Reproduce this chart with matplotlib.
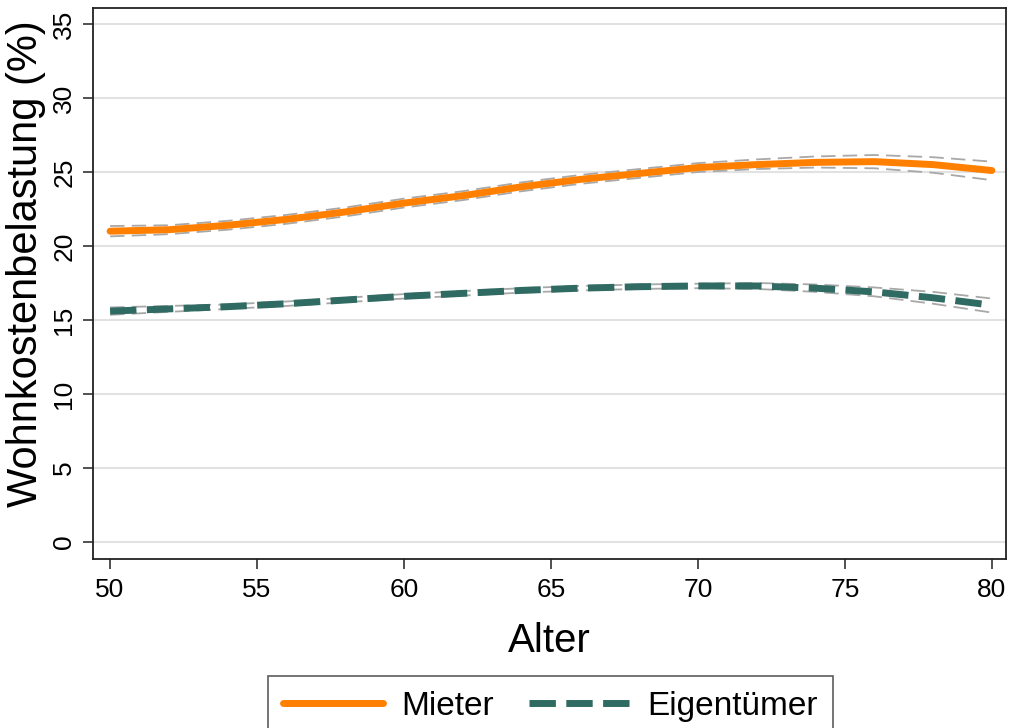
import numpy as np
import matplotlib.pyplot as plt

plt.rcParams['font.family'] = ['Liberation Sans', 'DejaVu Sans']

# --- Data ---
alter = [50, 52, 54, 56, 58, 60, 62, 64, 66, 68, 70, 72, 74, 76, 78, 80]

mieter = [21.0, 21.1, 21.4, 21.8, 22.3, 22.9, 23.4, 24.0, 24.5, 24.9, 25.3, 25.5, 25.65, 25.7, 25.5, 25.1]
mieter_lo = [20.65, 20.8, 21.1, 21.5, 22.0, 22.6, 23.1, 23.7, 24.2, 24.6, 25.0, 25.2, 25.3, 25.25, 24.95, 24.45]
mieter_hi = [21.35, 21.4, 21.7, 22.1, 22.6, 23.2, 23.7, 24.3, 24.8, 25.2, 25.6, 25.85, 26.05, 26.15, 26.0, 25.7]

eigen = [15.6, 15.75, 15.9, 16.1, 16.35, 16.6, 16.8, 17.0, 17.15, 17.25, 17.3, 17.3, 17.15, 16.9, 16.5, 16.0]
eigen_lo = [15.35, 15.55, 15.75, 15.95, 16.2, 16.45, 16.65, 16.85, 17.0, 17.1, 17.15, 17.1, 16.9, 16.6, 16.1, 15.5]
eigen_hi = [15.85, 15.95, 16.05, 16.25, 16.5, 16.75, 16.95, 17.15, 17.3, 17.4, 17.45, 17.5, 17.4, 17.2, 16.9, 16.45]

xticks = [50, 55, 60, 65, 70, 75, 80]
yticks = [0, 5, 10, 15, 20, 25, 30, 35]

orange = '#ff7f00'
teal = '#2f6b62'
ci_grey = '#a8a8a8'

# --- Plotting ---
fig = plt.figure(figsize=(10.1, 7.28), dpi=100)
ax = fig.add_axes([0.0921, 0.2321, 0.9039, 0.7569])

for y in yticks:
    ax.axhline(y, color='#e2e2e2', linewidth=1.5, zorder=0)

# confidence bands
for band in (mieter_lo, mieter_hi, eigen_lo, eigen_hi):
    ax.plot(alter, band, color=ci_grey, linewidth=1.3, dashes=(8, 4), zorder=2)

ax.plot(alter, mieter, color=orange, linewidth=5.0, solid_capstyle='round',
        label='Mieter', zorder=3)
ax.plot(alter, eigen, color=teal, linewidth=5.0, dashes=(3.8, 1.5),
        label='Eigentümer', zorder=3)

ax.set_xlim(49.42, 80.48)
ax.set_ylim(-1.15, 36.08)
ax.set_xticks(xticks)
ax.set_yticks(yticks)
ax.tick_params(axis='both', labelsize=19, length=7, width=1.2, color='#333333')
ax.tick_params(axis='x', pad=7)
ax.tick_params(axis='y', pad=5)
for lab in ax.get_yticklabels():
    lab.set_rotation(90)
    lab.set_va('center')

for sp in ax.spines.values():
    sp.set_color('#222222')
    sp.set_linewidth(1.3)

ax.set_xlabel('Alter', fontsize=29, labelpad=14)
ax.set_ylabel('Wohnkostenbelastung (%)', fontsize=30)
ax.yaxis.set_label_coords(-0.052, (559 - 264) / 551)

leg = fig.legend(loc='upper center', ncol=2, fontsize=24, frameon=True,
                 fancybox=False, handlelength=3.0, handletextpad=0.55,
                 columnspacing=1.05, borderpad=0.45, borderaxespad=0.0,
                 bbox_to_anchor=(0.545, 1 - 676 / 728), bbox_transform=fig.transFigure)
leg.get_frame().set_edgecolor('#333333')
leg.get_frame().set_linewidth(1.2)

fig.savefig('out.png', dpi=100)
